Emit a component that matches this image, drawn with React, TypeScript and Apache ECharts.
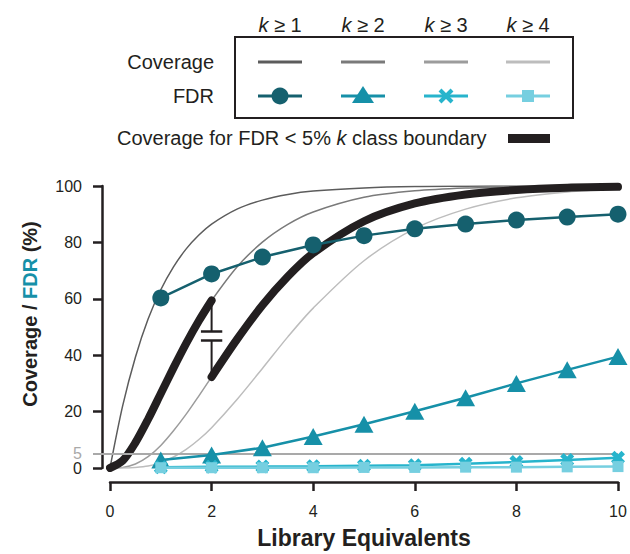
import React, { useEffect, useRef } from "react";
import * as echarts from "echarts";

// Coverage curves read at these x positions
const covX = [0, 0.25, 0.5, 0.75, 1, 1.25, 1.5, 1.75, 2, 2.5, 3, 3.5, 4, 5, 6, 7, 8, 9, 10];
const coverageK1 = [0, 22.1, 39.3, 52.8, 63.2, 71.3, 77.7, 82.6, 86.5, 91.8, 95.0, 97.0, 98.2, 99.3, 99.8, 99.9, 100, 100, 100];
const coverageK2 = [0, 2.6, 9.0, 17.3, 26.4, 35.5, 44.2, 52.2, 59.4, 71.3, 80.1, 86.4, 90.8, 96.0, 98.3, 99.3, 99.7, 99.9, 100];
const coverageK3 = [0, 0.2, 1.4, 4.0, 8.0, 13.2, 19.1, 25.6, 32.3, 45.6, 57.7, 67.9, 76.2, 87.5, 93.8, 97.0, 98.6, 99.4, 99.7];
const coverageK4 = [0, 0, 0.2, 0.7, 1.9, 3.9, 6.6, 10.1, 14.3, 24.3, 35.3, 46.5, 56.7, 73.5, 84.9, 91.8, 95.8, 97.9, 99.0];

// FDR values at library equivalents 1..10
const fdrX = [1, 2, 3, 4, 5, 6, 7, 8, 9, 10];
const fdrK1 = [60.3, 68.8, 74.8, 79.1, 82.4, 84.8, 86.5, 87.9, 89.0, 90.0];
const fdrK2 = [2.8, 4.6, 7.2, 11.2, 15.5, 20.1, 24.9, 30.0, 34.8, 39.5];
const fdrK3 = [0.3, 0.4, 0.5, 0.6, 0.8, 1.0, 1.5, 2.1, 2.8, 3.6];
const fdrK4 = [0.1, 0.1, 0.1, 0.1, 0.2, 0.2, 0.3, 0.3, 0.4, 0.5];

// k-class boundary switch (x) and axis-break marks (y)
const boundaryX = 2;
const breakY = [48.4, 45.2];
const breakHalfWidth = 0.21;
const fdrThreshold = 5;

const yTicks = [0, 20, 40, 60, 80, 100];
const xTicks = [0, 2, 4, 6, 8, 10];
const kLabels = ["1", "2", "3", "4"];

const INK = "#231f20";
const covColors = ["#5c5c5c", "#7a7a7a", "#9c9c9c", "#bdbdbd"];
const fdrColors = ["#15606e", "#1690a8", "#27b4cc", "#76cfe0"];
const FONT = "Liberation Sans, Arial, Helvetica, sans-serif";

const xSymbol = "path://M0,2.5 L2.5,0 L5,2.5 L7.5,0 L10,2.5 L7.5,5 L10,7.5 L7.5,10 L5,7.5 L2.5,10 L0,7.5 L2.5,5 Z";

function pairs(xs: number[], ys: number[]) {
  return xs.map((x, i) => [x, ys[i]]);
}

export default function App() {
  const ref = useRef<HTMLDivElement>(null);
  useEffect(() => {
    if (!ref.current) return;
    const chart = echarts.init(ref.current, null, { renderer: "svg" });

    const splitIdx = covX.indexOf(boundaryX);
    const boundaryLow = pairs(covX.slice(0, splitIdx + 1), coverageK2.slice(0, splitIdx + 1));
    const boundaryHigh = pairs(covX.slice(splitIdx), coverageK3.slice(splitIdx));

    const covSeries = [coverageK1, coverageK2, coverageK3, coverageK4].map((ys, i) => ({
      type: "line",
      name: "Coverage k≥" + kLabels[i],
      data: pairs(covX, ys),
      smooth: 0.3,
      showSymbol: false,
      symbol: "none",
      lineStyle: { color: covColors[i], width: 1.5 },
      z: 2,
    }));

    const thick = (data: number[][]) => ({
      type: "line",
      data,
      smooth: 0.3,
      symbol: "none",
      lineStyle: { color: INK, width: 8, cap: "round", join: "round" },
      z: 4,
    });

    const breakSeries = [
      { data: [[boundaryX, coverageK2[splitIdx]], [boundaryX, breakY[0]]], w: 2 },
      { data: [[boundaryX, breakY[1]], [boundaryX, coverageK3[splitIdx]]], w: 2 },
      { data: [[boundaryX - breakHalfWidth, breakY[0]], [boundaryX + breakHalfWidth, breakY[0]]], w: 2.5 },
      { data: [[boundaryX - breakHalfWidth, breakY[1]], [boundaryX + breakHalfWidth, breakY[1]]], w: 2.5 },
    ].map((b) => ({
      type: "line",
      data: b.data,
      symbol: "none",
      lineStyle: { color: INK, width: b.w },
      z: 5,
    }));

    const fdrSym = [
      { symbol: "circle", size: 17 },
      { symbol: "triangle", size: [19, 17] },
      { symbol: xSymbol, size: 14 },
      { symbol: "rect", size: 11 },
    ];
    const fdrSeries = [fdrK1, fdrK2, fdrK3, fdrK4].map((ys, i) => ({
      type: "line",
      name: "FDR k≥" + kLabels[i],
      data: pairs(fdrX, ys),
      symbol: fdrSym[i].symbol,
      symbolSize: fdrSym[i].size,
      showSymbol: true,
      lineStyle: { color: fdrColors[i], width: 2.5 },
      itemStyle: { color: fdrColors[i], opacity: 1 },
      z: 6 + i,
    }));

    const thresholdSeries = {
      type: "line",
      data: [],
      symbol: "none",
      markLine: {
        silent: true,
        symbol: "none",
        label: { show: false },
        lineStyle: { color: "#a9a9a9", width: 2, type: "solid" },
        data: [{ yAxis: fdrThreshold }],
      },
      z: 1,
    };

    // Legend graphics
    const colX = [280, 363, 446, 528];
    const segHalf = 22;
    const rowCov = 62;
    const rowFdr = 96;
    const legend: any[] = [];
    colX.forEach((cx, i) => {
      legend.push({
        type: "text",
        x: cx,
        y: 25,
        style: {
          text: "{i|k} ≥ " + kLabels[i],
          font: `20px ${FONT}`,
          fill: INK,
          align: "center",
          verticalAlign: "middle",
          rich: { i: { fontStyle: "italic", fontSize: 20, fontFamily: FONT, fill: INK } },
        },
      });
      legend.push({
        type: "line",
        shape: { x1: cx - segHalf, y1: rowCov, x2: cx + segHalf, y2: rowCov },
        style: { stroke: covColors[i], lineWidth: 3 },
      });
      legend.push({
        type: "line",
        shape: { x1: cx - segHalf, y1: rowFdr, x2: cx + segHalf, y2: rowFdr },
        style: { stroke: fdrColors[i], lineWidth: 3 },
      });
    });
    legend.push({ type: "circle", shape: { cx: colX[0], cy: rowFdr, r: 8.5 }, style: { fill: fdrColors[0] } });
    legend.push({
      type: "polygon",
      shape: { points: [[colX[1], rowFdr - 10], [colX[1] + 11, rowFdr + 7], [colX[1] - 11, rowFdr + 7]] },
      style: { fill: fdrColors[1] },
    });
    legend.push({
      type: "line",
      shape: { x1: colX[2] - 6, y1: rowFdr - 6, x2: colX[2] + 6, y2: rowFdr + 6 },
      style: { stroke: fdrColors[2], lineWidth: 4 },
    });
    legend.push({
      type: "line",
      shape: { x1: colX[2] - 6, y1: rowFdr + 6, x2: colX[2] + 6, y2: rowFdr - 6 },
      style: { stroke: fdrColors[2], lineWidth: 4 },
    });
    legend.push({ type: "rect", shape: { x: colX[3] - 6, y: rowFdr - 6, width: 12, height: 12 }, style: { fill: fdrColors[3] } });
    legend.push({
      type: "rect",
      shape: { x: 235, y: 37, width: 338, height: 81 },
      style: { fill: "none", stroke: INK, lineWidth: 2 },
    });
    legend.push({
      type: "text", x: 214, y: rowCov,
      style: { text: "Coverage", font: `20px ${FONT}`, fill: INK, align: "right", verticalAlign: "middle" },
    });
    legend.push({
      type: "text", x: 214, y: rowFdr,
      style: { text: "FDR", font: `20px ${FONT}`, fill: INK, align: "right", verticalAlign: "middle" },
    });
    legend.push({
      type: "text", x: 117, y: 138,
      style: {
        text: "Coverage for FDR < 5% {i|k} class boundary",
        font: `20px ${FONT}`,
        fill: INK,
        align: "left",
        verticalAlign: "middle",
        rich: { i: { fontStyle: "italic", fontSize: 20, fontFamily: FONT, fill: INK } },
      },
    });
    legend.push({ type: "rect", shape: { x: 508, y: 134, width: 42, height: 9 }, style: { fill: INK } });
    legend.push({
      type: "text", x: 30, y: 314, rotation: Math.PI / 2,
      style: {
        text: "{a|Coverage / }{b|FDR}{a| (%)}",
        align: "center",
        verticalAlign: "middle",
        rich: {
          a: { fontSize: 20, fontWeight: "bold", fontFamily: FONT, fill: INK },
          b: { fontSize: 20, fontWeight: "bold", fontFamily: FONT, fill: fdrColors[1] },
        },
      },
    });

    chart.setOption({
      animation: false,
      backgroundColor: "#ffffff",
      textStyle: { fontFamily: FONT },
      grid: { left: 110, width: 508, top: 186, height: 287, containLabel: false },
      xAxis: {
        type: "value",
        min: 0,
        max: 10,
        interval: 2,
        offset: 14,
        name: "Library Equivalents",
        nameLocation: "middle",
        nameGap: 44,
        nameTextStyle: { fontSize: 23, fontWeight: "bold", color: INK, fontFamily: FONT },
        axisLine: { show: true, onZero: false, lineStyle: { color: INK, width: 2.5 } },
        axisTick: { show: true, length: 9, lineStyle: { color: INK, width: 2.5 }, customValues: xTicks },
        axisLabel: { fontSize: 16, color: INK, margin: 21, customValues: xTicks, fontFamily: FONT },
        splitLine: { show: false },
      },
      yAxis: [
        {
          type: "value",
          min: 0,
          max: 100,
          position: "left",
          offset: 8,
          axisLine: { show: true, onZero: false, lineStyle: { color: INK, width: 2.5 } },
          axisTick: { show: true, length: 9, lineStyle: { color: INK, width: 2.5 }, customValues: yTicks },
          axisLabel: { fontSize: 16, lineHeight: 13, color: INK, margin: 20, customValues: yTicks, fontFamily: FONT },
          splitLine: { show: false },
        },
        {
          type: "value",
          min: 0,
          max: 100,
          position: "left",
          offset: 0,
          axisLine: { show: false },
          axisTick: { show: true, length: 17, lineStyle: { color: "#a9a9a9", width: 2 }, customValues: [fdrThreshold] },
          axisLabel: { fontSize: 16, lineHeight: 13, color: "#a9a9a9", margin: 28, customValues: [fdrThreshold], fontFamily: FONT },
          splitLine: { show: false },
        },
      ],
      graphic: legend,
      series: [
        thresholdSeries,
        ...covSeries,
        thick(boundaryLow),
        thick(boundaryHigh),
        ...breakSeries,
        ...fdrSeries,
      ],
    });
    return () => chart.dispose();
  }, []);
  return <div ref={ref} style={{ position: "fixed", left: 0, top: 0, width: 630, height: 554 }} />;
}
